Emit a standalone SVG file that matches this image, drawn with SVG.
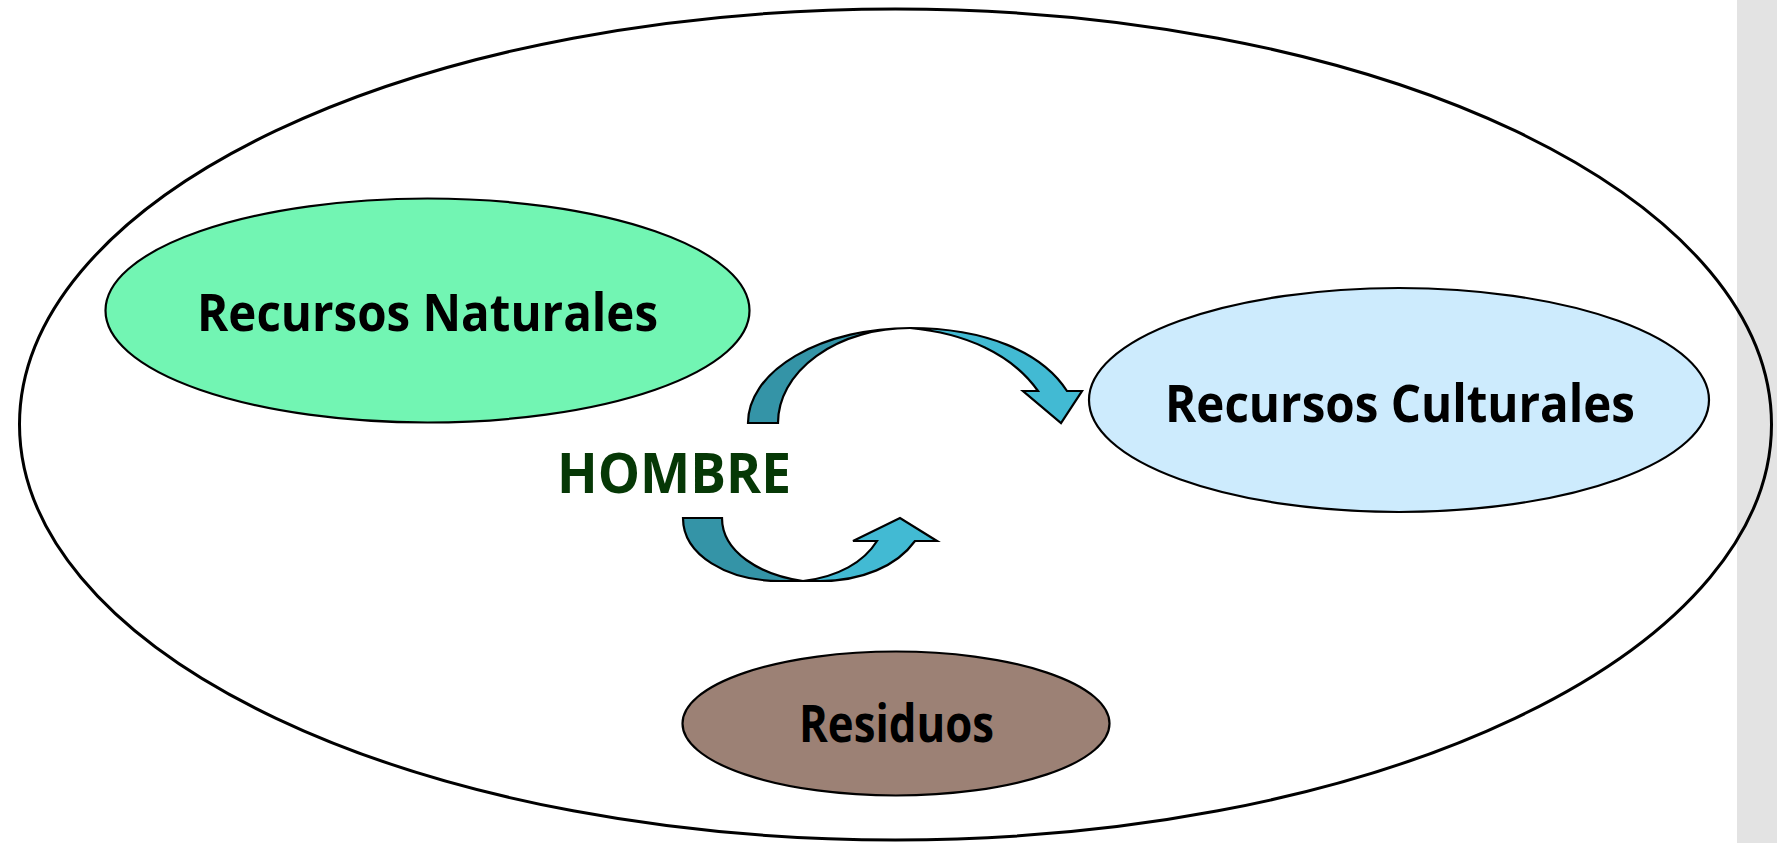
<svg xmlns="http://www.w3.org/2000/svg" width="1777" height="843" viewBox="0 0 1777 843">
<style>
.lbl{font-family:"Open Sans",Lato,"Liberation Sans",sans-serif;font-weight:700;fill:#000;text-anchor:start}
.node{stroke:#000;stroke-width:2.2}
.arr{stroke:#000;stroke-width:2.2;stroke-linejoin:miter}
.dark{fill:#3494A7}
.light{fill:#42BAD3}
</style>
<rect x="0" y="0" width="1777" height="843" fill="#fff"/>
<rect x="1737" y="0" width="40" height="843" fill="#E3E3E3"/>
<g id="outer">
<ellipse cx="895.5" cy="424.5" rx="876" ry="415.5" fill="none" stroke="#000" stroke-width="3"/>
</g>
<g id="recursos-naturales">
<ellipse class="node" cx="427.5" cy="310.5" rx="322" ry="112" fill="#72F5B3"/>
<text class="lbl" x="197" y="331" font-size="52" textLength="461" lengthAdjust="spacingAndGlyphs">Recursos Naturales</text>
</g>
<g id="recursos-culturales">
<ellipse class="node" cx="1399" cy="400" rx="310" ry="112" fill="#CDEBFD"/>
<text class="lbl" x="1165" y="421.5" font-size="52" textLength="470" lengthAdjust="spacingAndGlyphs">Recursos Culturales</text>
</g>
<g id="residuos">
<ellipse class="node" cx="896" cy="723.5" rx="213.5" ry="72" fill="#9C8175"/>
<text class="lbl" x="799" y="742" font-size="52" textLength="195" lengthAdjust="spacingAndGlyphs">Residuos</text>
</g>
<g id="hombre">
<text class="lbl" x="557" y="493" font-size="56" textLength="234" lengthAdjust="spacingAndGlyphs" style="fill:#063806">HOMBRE</text>
</g>
<g id="connectors">
<path class="arr dark" d="M748,423 A162,95 0 0,1 910,328 A132,95 0 0,0 778,423 Z"/>
<path class="arr light" d="M910,328 C985,328 1042,352 1067,391 L1082,391 L1061,423 L1023,391 L1038,391 C1012,354 965,333 910,328 Z"/>
<path class="arr dark" d="M683,518 L722,518 C722,552 760,575 803,581 L780,581 C727,581 683,555 683,518 Z"/>
<path class="arr light" d="M780,581 L820,581 C862,581 897,566 915,541 L937,541 L900,518 L853,541 L877,541 C864,562 838,577 803,581 Z"/>
</g>
</svg>
